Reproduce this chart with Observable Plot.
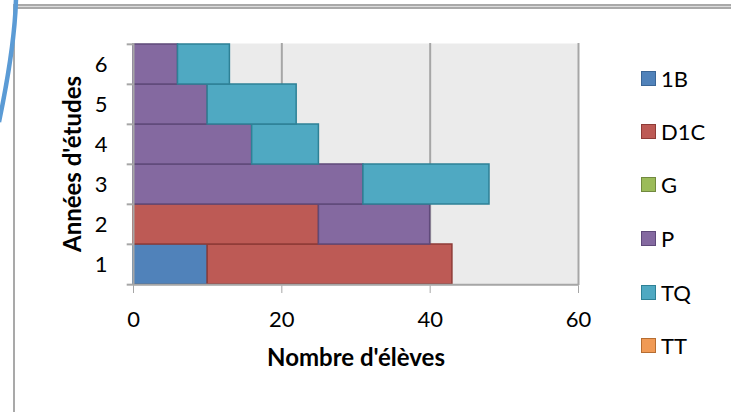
<!DOCTYPE html>
<html>
<head>
<meta charset="utf-8">
<script src="https://cdn.jsdelivr.net/npm/d3@7"></script>
<script src="https://cdn.jsdelivr.net/npm/@observablehq/plot@0.6"></script>
<style>
  html, body { margin: 0; padding: 0; background: #fff; }
  #wrap { position: relative; width: 731px; height: 412px; overflow: hidden; font-family: Lato, "Open Sans", sans-serif; }
  #chart { position: absolute; left: 0; top: 0; }
  #chart svg text { fill: #000; }
  .deco { position: absolute; }
  .ytitle { position: absolute; left: 72px; top: 164px; transform: translate(-50%, -50%) rotate(-90deg); font-weight: bold; font-size: 24px; line-height: 1.2; white-space: nowrap; color: #000; }
  .xtitle { position: absolute; left: 356px; top: 343px; transform: translateX(-50%); font-weight: bold; font-size: 24px; line-height: 1.2; white-space: nowrap; color: #000; }
  .leg { position: absolute; left: 641px; font-size: 22px; color: #000; display: flex; align-items: center; height: 26px; }
  .leg span.sw { display: inline-block; width: 13px; height: 13px; border: 1.5px solid; margin-right: 5px; }
</style>
</head>
<body>
<div id="wrap">
  <div class="deco" style="left:13px; top:4px; width:2px; height:410px; background:#a9a9a9;"></div>
  <div class="deco" style="left:15px; top:4px; width:716px; height:1px; border-top:2px solid #a9a9a9; border-bottom:2px solid #a9a9a9; background:#dcdcdc;"></div>
  <svg class="deco" style="left:0; top:0;" width="30" height="130"><path d="M16,-2 Q15,45 -1,122" fill="none" stroke="#5b9bd5" stroke-width="4.5"/></svg>
  <div id="chart"></div>
  <div class="ytitle">Années d'études</div>
  <div class="xtitle">Nombre d'élèves</div>
  <div id="legend"></div>
</div>
<script>
// Categories (years of study), bottom to top
const years = ["1", "2", "3", "4", "5", "6"];
// Series names
const seriesNames = ["1B", "D1C", "G", "P", "TQ", "TT"];
// Values per series, aligned with years
const v1B  = [10, 0, 0, 0, 0, 0];
const vD1C = [33, 25, 0, 0, 0, 0];
const vG   = [0, 0, 0, 0, 0, 0];
const vP   = [0, 15, 31, 16, 10, 6];
const vTQ  = [0, 0, 17, 9, 12, 7];
const vTT  = [0, 0, 0, 0, 0, 0];
const seriesValues = [v1B, vD1C, vG, vP, vTQ, vTT];
// Colours
const fills   = ["#5082ba", "#bd5a55", "#9bbb59", "#8469a0", "#4fa9c2", "#f09a55"];
const strokes = ["#3b6696", "#8f3b37", "#71893f", "#5f4a7a", "#2e8196", "#b66d31"];
// Axis ticks
const xTicks = [0, 20, 40, 60];
const xDomain = [0, 60];

const fillOf = Object.fromEntries(seriesNames.map((s, i) => [s, fills[i]]));
const strokeOf = Object.fromEntries(seriesNames.map((s, i) => [s, strokes[i]]));

const data = [];
seriesNames.forEach((s, si) => {
  years.forEach((y, yi) => {
    const v = seriesValues[si][yi];
    if (v > 0) data.push({ year: y, series: s, value: v });
  });
});

const W = 731, H = 412;
const mT = 43, mB = 127, mL = 133, mR = 153;
const bw = (H - mT - mB) / years.length;
const gray = "#a6a6a6";

const chart = Plot.plot({
  width: W,
  height: H,
  marginTop: mT,
  marginBottom: mB,
  marginLeft: mL,
  marginRight: mR,
  style: { color: gray, fontSize: "22px", fontFamily: "Lato, 'Open Sans', sans-serif", background: "transparent", overflow: "visible" },
  x: { domain: xDomain, ticks: xTicks, tickSize: 8, tickPadding: 18, label: null },
  y: { domain: years.slice().reverse(), padding: 0, tickSize: 0, tickPadding: 26, label: null },
  color: { type: "identity" },
  marks: [
    Plot.frame({ fill: "#ebebeb", stroke: null }),
    Plot.ruleX(xTicks.filter(t => t > 0), { stroke: gray, strokeWidth: 2 }),
    Plot.barX(data, Plot.stackX({
      y: "year", x: "value",
      fill: d => fillOf[d.series],
      stroke: d => strokeOf[d.series],
      strokeWidth: 1.5,
      inset: 0
    })),
    Plot.ruleX([0], { stroke: gray, strokeWidth: 2 }),
    Plot.ruleY([years[0]], { stroke: gray, strokeWidth: 2, dy: bw / 2 }),
    Plot.ruleY(years, { x1: -0.85, x2: 0, stroke: gray, strokeWidth: 2, dy: -bw / 2 }),
    Plot.ruleY([years[0]], { x1: -0.85, x2: 0, stroke: gray, strokeWidth: 2, dy: bw / 2 })
  ]
});
document.getElementById("chart").appendChild(chart);

// Legend
const legendCenters = [78, 131, 184, 238, 292, 345];
const legend = document.getElementById("legend");
seriesNames.forEach((s, i) => {
  const d = document.createElement("div");
  d.className = "leg";
  d.style.top = (legendCenters[i] - 13) + "px";
  const sw = document.createElement("span");
  sw.className = "sw";
  sw.style.background = fills[i];
  sw.style.borderColor = strokes[i];
  d.appendChild(sw);
  d.appendChild(document.createTextNode(s));
  legend.appendChild(d);
});
</script>
</body>
</html>
